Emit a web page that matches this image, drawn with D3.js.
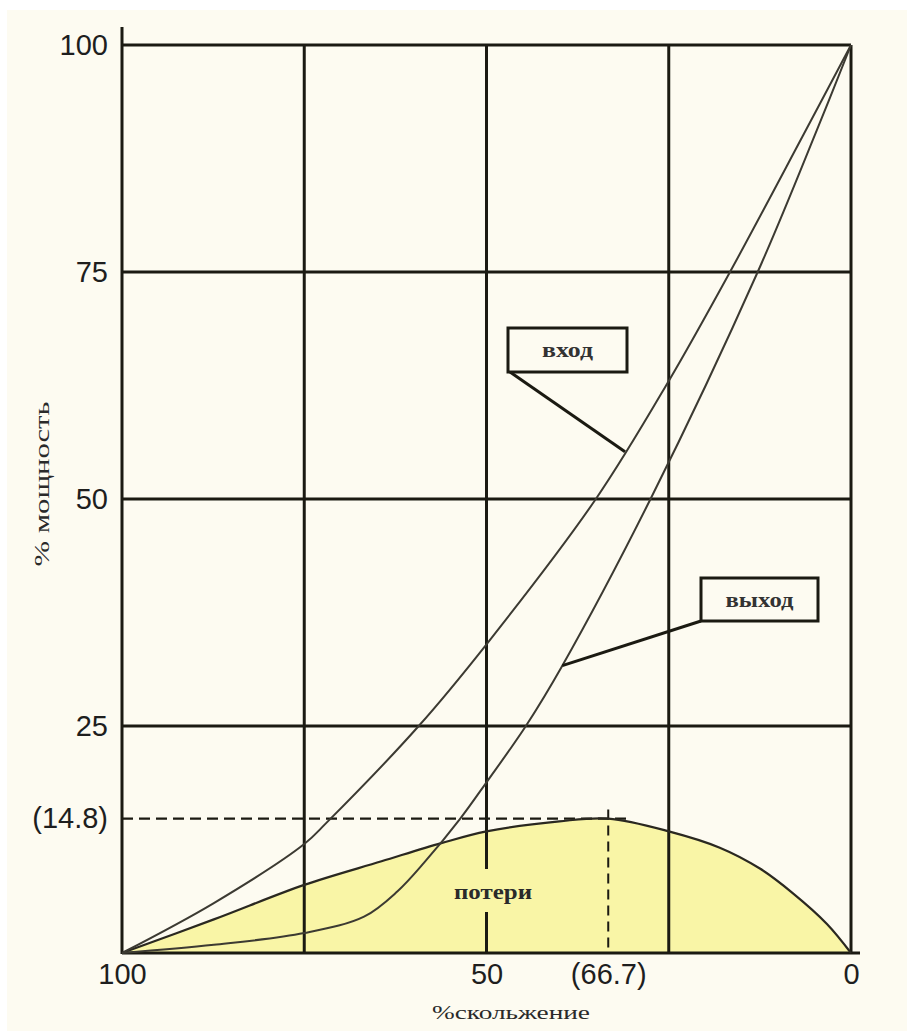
<!DOCTYPE html>
<html>
<head>
<meta charset="utf-8">
<script src="https://cdn.jsdelivr.net/npm/d3@7"></script>
<style>
  html, body { margin: 0; padding: 0; background: #ffffff; }
  svg { display: block; }
</style>
</head>
<body>
<svg id="chart" width="907" height="1031"></svg>
<script>
// ---------- data ----------
const gridSlip = [100, 75, 50, 25, 0];
const gridPower = [0, 25, 50, 75, 100];

const xTickValues = [100, 50, 33.3, 0];
const xTickLabels = ["100", "50", "(66.7)", "0"];
const yTickValues = [100, 75, 50, 25, 14.8];
const yTickLabels = ["100", "75", "50", "25", "(14.8)"];

// input power curve ("вход")
const inputSlip  = [100, 87.4, 75, 72, 59.3, 50, 35, 25, 16.6, 6.6, 0];
const inputPower = [0, 5.5, 12.0, 14.3, 25, 34.0, 50, 63, 75, 90, 100];

// output power curve ("выход")
const outputSlip  = [100, 87.4, 75, 66.8, 62.2, 58.5, 53.6, 50, 44.6, 39.7, 27.5, 12.8, 4.7, 0];
const outputPower = [0, 0.9, 2.2, 4.0, 6.8, 10.0, 14.8, 18.8, 25, 31.5, 50, 75, 90.6, 100];

// losses curve ("потери")
const lossSlip  = [100, 87.4, 75, 64.4, 56.2, 50, 40, 33.3, 25, 18, 12.5, 8, 3.3, 0];
const lossPower = [0, 3.7, 7.5, 10.1, 12.1, 13.4, 14.5, 14.8, 13.4, 11.6, 9.3, 6.6, 3.2, 0];

// peak of losses
const peakSlip = 33.3;
const peakPower = 14.8;

// annotation anchors (slip on curve)
const inputAnchorSlip = 31;
const outputAnchorSlip = 39.6;

// ---------- drawing ----------
const svg = d3.select("#chart");
const W = 907, H = 1031;

const x = d3.scaleLinear().domain([100, 0]).range([122, 851]);
const y = d3.scaleLinear().domain([0, 100]).range([953, 45]);

const cream = "#fdfbf1";
const yellow = "#f9f5a6";
const ink = "#1b1a12";
const curveType = d3.curveCatmullRom.alpha(0.5);

svg.append("rect").attr("x", 7).attr("y", 10).attr("width", W - 7).attr("height", H - 10).attr("fill", cream);

const zip = (xs, ys) => xs.map((s, i) => ({ s, p: ys[i] }));
const inputData = zip(inputSlip, inputPower);
const outputData = zip(outputSlip, outputPower);
const lossData = zip(lossSlip, lossPower);

// loss area
svg.append("path")
  .datum(lossData)
  .attr("fill", yellow)
  .attr("d", d3.area().x(d => x(d.s)).y0(y(0)).y1(d => y(d.p)).curve(curveType));

// grid
svg.append("g").selectAll("line").data(gridSlip).join("line")
  .attr("x1", d => x(d)).attr("x2", d => x(d))
  .attr("y1", d => d === 100 ? y(100) - 18 : y(100))
  .attr("y2", y(0) + 1)
  .attr("stroke", ink).attr("stroke-width", 3);
svg.append("g").selectAll("line").data(gridPower).join("line")
  .attr("x1", x(100)).attr("x2", d => d === 0 ? x(0) + 9 : x(0))
  .attr("y1", d => y(d)).attr("y2", d => y(d))
  .attr("stroke", ink).attr("stroke-width", 3);

// label background for "потери"
const lossLabelX = 493, lossLabelY = 891;
svg.append("rect")
  .attr("x", lossLabelX - 46).attr("y", lossLabelY - 22)
  .attr("width", 92).attr("height", 43)
  .attr("fill", yellow);

// dashed peak lines
svg.append("line")
  .attr("x1", x(100)).attr("x2", x(peakSlip - 2.7))
  .attr("y1", y(peakPower)).attr("y2", y(peakPower))
  .attr("stroke", ink).attr("stroke-width", 2.2).attr("stroke-dasharray", "11,6");
svg.append("line")
  .attr("x1", x(peakSlip)).attr("x2", x(peakSlip))
  .attr("y1", y(peakPower + 1)).attr("y2", y(0))
  .attr("stroke", ink).attr("stroke-width", 2).attr("stroke-dasharray", "10,6");

// curves
const line = d3.line().x(d => x(d.s)).y(d => y(d.p)).curve(curveType);
svg.append("path").datum(lossData).attr("fill", "none").attr("stroke", "#2a2820").attr("stroke-width", 2.2).attr("d", line);
svg.append("path").datum(inputData).attr("fill", "none").attr("stroke", "#3c3a32").attr("stroke-width", 2).attr("d", line);
svg.append("path").datum(outputData).attr("fill", "none").attr("stroke", "#3c3a32").attr("stroke-width", 2).attr("d", line);

// interpolation helper to find a point on a series
function powerAt(slips, powers, s) {
  for (let i = 0; i < slips.length - 1; i++) {
    const a = slips[i], b = slips[i + 1];
    if ((s <= a && s >= b)) {
      const t = (a - s) / (a - b);
      return powers[i] + t * (powers[i + 1] - powers[i]);
    }
  }
  return 0;
}

// annotation boxes
function callout(box, label, anchorSlip, slips, powers, corner, textLen) {
  const ax = x(anchorSlip), ay = y(powerAt(slips, powers, anchorSlip));
  svg.append("line")
    .attr("x1", corner[0]).attr("y1", corner[1]).attr("x2", ax).attr("y2", ay)
    .attr("stroke", ink).attr("stroke-width", 3);
  svg.append("rect")
    .attr("x", box[0]).attr("y", box[1]).attr("width", box[2]).attr("height", box[3])
    .attr("fill", cream).attr("stroke", ink).attr("stroke-width", 3);
  svg.append("text")
    .attr("x", box[0] + box[2] / 2).attr("y", box[1] + box[3] / 2)
    .attr("text-anchor", "middle").attr("dominant-baseline", "central")
    .attr("font-family", "'Liberation Serif', 'DejaVu Serif', serif")
    .attr("font-size", 21).attr("font-weight", "bold").attr("fill", "#333")
    .attr("textLength", textLen).attr("lengthAdjust", "spacingAndGlyphs")
    .text(label);
}
callout([508, 328, 119, 44], "вход", inputAnchorSlip, inputSlip, inputPower, [510, 372], 51);
callout([701, 578, 117, 43], "выход", outputAnchorSlip, outputSlip, outputPower, [701, 621], 68);

// "потери" label
svg.append("text")
  .attr("x", lossLabelX).attr("y", lossLabelY)
  .attr("text-anchor", "middle").attr("dominant-baseline", "central")
  .attr("font-family", "'Liberation Serif', 'DejaVu Serif', serif")
  .attr("font-size", 22).attr("font-weight", "bold").attr("fill", "#2a2a2a")
  .attr("textLength", 78).attr("lengthAdjust", "spacingAndGlyphs")
  .text("потери");

// axes (labels only)
const fontSans = "'Liberation Sans', Arial, sans-serif";
const yAxis = svg.append("g").attr("transform", `translate(${x(100)},0)`)
  .call(d3.axisLeft(y).tickValues(yTickValues).tickFormat((d, i) => yTickLabels[i]).tickSize(0).tickPadding(14));
const xAxis = svg.append("g").attr("transform", `translate(0,${y(0)})`)
  .call(d3.axisBottom(x).tickValues(xTickValues).tickFormat((d, i) => xTickLabels[i]).tickSize(0).tickPadding(10));
[yAxis, xAxis].forEach(g => {
  g.select(".domain").remove();
  g.selectAll("text").attr("font-family", fontSans).attr("font-size", 29).attr("fill", "#1e1e1e");
});

// axis titles
svg.append("text")
  .attr("transform", "translate(42,484) rotate(-90)")
  .attr("text-anchor", "middle").attr("dominant-baseline", "central")
  .attr("font-family", "'Liberation Serif', 'DejaVu Serif', serif")
  .attr("font-size", 20).attr("fill", "#2a2a2a")
  .attr("textLength", 165).attr("lengthAdjust", "spacingAndGlyphs")
  .text("% мощность");
svg.append("text")
  .attr("x", 511).attr("y", 1012)
  .attr("text-anchor", "middle").attr("dominant-baseline", "central")
  .attr("font-family", "'Liberation Serif', 'DejaVu Serif', serif")
  .attr("font-size", 19).attr("fill", "#2a2a2a")
  .attr("textLength", 158).attr("lengthAdjust", "spacingAndGlyphs")
  .text("%скольжение");
</script>
</body>
</html>
